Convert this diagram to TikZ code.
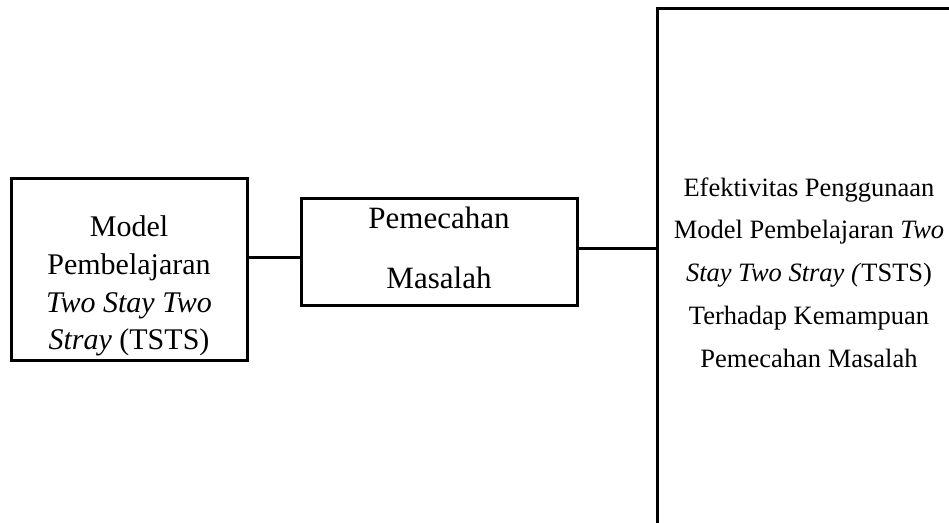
\documentclass[tikz,border=0pt]{standalone}
\usepackage{fontspec}
\setmainfont{Liberation Serif}
\begin{document}
\begin{tikzpicture}[x=1pt, y=-1pt,
    kotak/.style={draw, rectangle, line width=3pt, inner sep=0pt},
    teks/.style={align=center, inner sep=0pt}]
        \useasboundingbox (0,0) rectangle (949,522);
        \clip (0,0) rectangle (949,522);
        % kotak
        \node[kotak, minimum width=236pt, minimum height=182pt] (model) at (129,269.5) {};
        \node[kotak, minimum width=276pt, minimum height=107pt] (masalah) at (439,251.5) {};
        \node[kotak, minimum width=304pt, minimum height=532pt] (efek) at (809,274) {};
        % isi kotak
        \node[teks, font=\fontsize{30}{37.7}\selectfont] (model-txt) at ([yshift=-16.5pt]model.center)
            {Model\\Pembelajaran\\\textit{Two Stay Two}\\\textit{Stray} (TSTS)};
        \node[teks, font=\fontsize{31}{60}\selectfont] (masalah-txt) at ([yshift=4pt]masalah.center)
            {Pemecahan\\Masalah};
        \node[teks, font=\fontsize{26.5}{42.8}\selectfont] (efek-txt) at ([yshift=1.5pt]efek.center)
            {Efektivitas Penggunaan\\Model Pembelajaran \textit{Two}\\\textit{Stay Two Stray (}TSTS)\\Terhadap Kemampuan\\Pemecahan Masalah};
        % garis
        \coordinate (j1) at ([yshift=12.5pt]model.east);
        \coordinate (j2) at ([yshift=3.5pt]masalah.east);
        \draw[line width=3pt] (j1) -- (j1 -| masalah.west);
        \draw[line width=3pt] (j2) -- (j2 -| efek.west);
    \end{tikzpicture}
\end{document}
